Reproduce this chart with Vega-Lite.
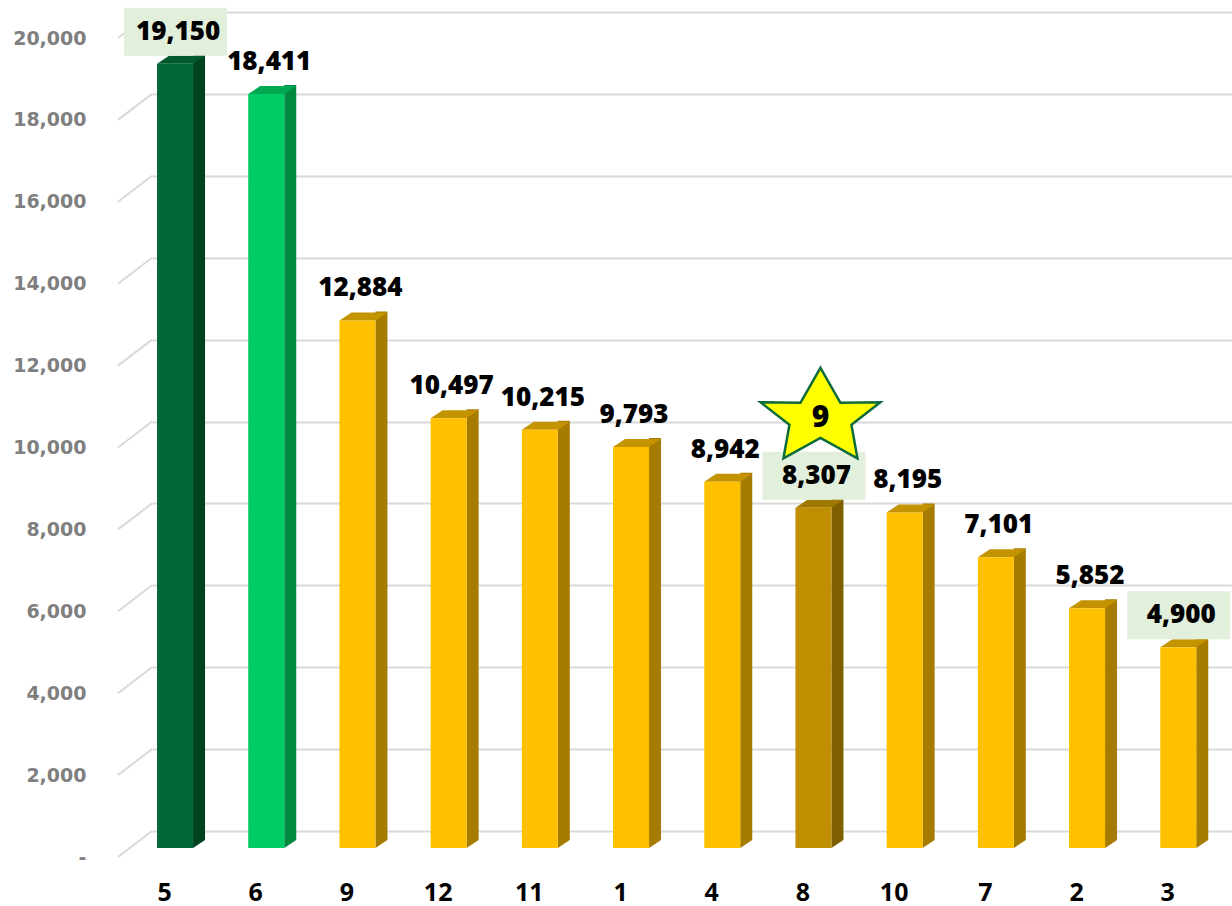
{
  "$schema": "https://vega.github.io/schema/vega-lite/v6.json",
  "width": 1080,
  "height": 819,
  "autosize": {"type": "none"},
  "padding": {"left": 152, "top": 12, "right": 0, "bottom": 75},
  "background": "#ffffff",
  "config": {"view": {"stroke": null}, "font": "Noto Sans"},
  "datasets": {
    "bars": [
      {"cat": "5", "value": 19150, "group": "first"},
      {"cat": "6", "value": 18411, "group": "second"},
      {"cat": "9", "value": 12884, "group": "other"},
      {"cat": "12", "value": 10497, "group": "other"},
      {"cat": "11", "value": 10215, "group": "other"},
      {"cat": "1", "value": 9793, "group": "other"},
      {"cat": "4", "value": 8942, "group": "other"},
      {"cat": "8", "value": 8307, "group": "focus"},
      {"cat": "10", "value": 8195, "group": "other"},
      {"cat": "7", "value": 7101, "group": "other"},
      {"cat": "2", "value": 5852, "group": "other"},
      {"cat": "3", "value": 4900, "group": "other"}
    ],
    "ticks": [
      {"v": 0}, {"v": 2000}, {"v": 4000}, {"v": 6000}, {"v": 8000}, {"v": 10000},
      {"v": 12000}, {"v": 14000}, {"v": 16000}, {"v": 18000}, {"v": 20000}
    ]
  },
  "data": {"name": "bars"},
  "encoding": {
    "x": {
      "field": "cat", "type": "nominal", "sort": null,
      "scale": {"type": "point", "padding": 0.421, "align": 0.3, "round": false},
      "axis": {
        "title": null, "domain": false, "ticks": false, "tickSize": 0, "grid": false,
        "labelAngle": 0, "labelFont": "Noto Sans", "labelFontWeight": "bold", "labelFontSize": 25,
        "labelColor": "#000000", "labelPadding": 61, "labelBaseline": "middle", "labelOffset": -11
      }
    }
  },
  "layer": [
    {
      "data": {"name": "ticks"},
      "mark": {"type": "rule", "color": "#D9D9D9", "strokeWidth": 2, "yOffset": 26},
      "encoding": {
        "x": {"value": -34},
        "x2": {"value": 0},
        "y": {
          "field": "v", "type": "quantitative",
          "scale": {"domain": [0, 20000], "nice": false, "zero": true},
          "axis": {
            "title": null, "domain": false, "ticks": false, "tickSize": 0,
            "values": [0, 2000, 4000, 6000, 8000, 10000, 12000, 14000, 16000, 18000, 20000],
            "grid": true, "gridColor": "#D9D9D9", "gridWidth": 2,
            "labelExpr": "datum.value == 0 ? '-' : format(datum.value, ',')",
            "labelFont": "DejaVu Sans", "labelFontWeight": "bold", "labelFontSize": 19,
            "labelColor": "#7F7F7F", "labelPadding": 66, "labelOffset": 26, "labelAlign": "right"
          }
        },
        "y2": {"field": "v"}
      }
    },
    {
      "mark": {"type": "bar", "width": 12, "xOffset": 24, "yOffset": 8, "y2Offset": 8},
      "encoding": {
        "y": {"field": "value", "type": "quantitative"},
        "y2": {"datum": 0},
        "color": {
          "field": "group", "type": "nominal", "legend": null,
          "scale": {"domain": ["first", "second", "focus", "other"], "range": ["#00421F", "#008A40", "#7F5F00", "#A67C00"]}
        }
      }
    },
    {
      "mark": {"type": "point", "filled": true, "opacity": 1, "size": 4, "strokeWidth": 0, "yOffset": 17,
        "shape": "M 18,0 L 18,-9.5 L 30,-9.5 L 30,-8 Z"},
      "encoding": {
        "y": {"datum": 0},
        "color": {
          "field": "group", "type": "nominal", "legend": null,
          "scale": {"domain": ["first", "second", "focus", "other"], "range": ["#00421F", "#008A40", "#7F5F00", "#A67C00"]}
        }
      }
    },
    {
      "mark": {"type": "point", "filled": true, "opacity": 1, "size": 4, "strokeWidth": 0, "yOffset": 17,
        "shape": "M -18,0 L 18,0 L 30,-8 L -6,-8 Z"},
      "encoding": {
        "y": {"field": "value", "type": "quantitative"},
        "color": {
          "field": "group", "type": "nominal", "legend": null,
          "scale": {"domain": ["first", "second", "focus", "other"], "range": ["#005A2D", "#00A852", "#A07800", "#C49300"]}
        }
      }
    },
    {
      "mark": {"type": "bar", "width": 36, "yOffset": 17, "y2Offset": 17},
      "encoding": {
        "y": {"field": "value", "type": "quantitative"},
        "y2": {"datum": 0},
        "color": {
          "field": "group", "type": "nominal", "legend": null,
          "scale": {"domain": ["first", "second", "focus", "other"], "range": ["#006837", "#00CC66", "#BF8F00", "#FFC000"]}
        }
      }
    },
    {
      "transform": [{"filter": "indexof(['5', '8', '3'], datum.cat) >= 0"}],
      "mark": {"type": "point", "filled": true, "opacity": 1, "size": 4, "strokeWidth": 0, "yOffset": 17,
        "shape": "M -51,-56 L 52,-56 L 52,-8 L -51,-8 Z", "color": "#E2EFDA"},
      "encoding": {
        "y": {"field": "value", "type": "quantitative"}
      }
    },
    {
      "mark": {"type": "text", "font": "Noto Sans", "fontWeight": 900, "fontSize": 26, "color": "#000000",
        "baseline": "middle", "align": "center", "dx": 3, "dy": -15},
      "encoding": {
        "y": {"field": "value", "type": "quantitative"},
        "text": {"field": "value", "type": "quantitative", "format": ","}
      }
    },
    {
      "transform": [{"filter": "datum.cat == '8'"}],
      "mark": {"type": "point", "filled": false, "opacity": 1, "size": 4, "yOffset": 17,
        "fill": "#FFFF00", "fillOpacity": 1, "stroke": "#0E6B3A", "strokeWidth": 2.5, "strokeOpacity": 1,
        "shape": "M 7,-140 L 27,-105 L 66.9,-105.5 L 38,-83 L 44,-49.5 L 7,-70 L -30,-49.5 L -24,-83 L -52.9,-105.5 L -13,-105 Z"},
      "encoding": {
        "y": {"field": "value", "type": "quantitative"}
      }
    },
    {
      "transform": [{"filter": "datum.cat == '8'"}],
      "mark": {"type": "text", "font": "Noto Sans", "fontWeight": 900, "fontSize": 30, "color": "#000000",
        "baseline": "middle", "align": "center", "dx": 7, "dy": -73},
      "encoding": {
        "y": {"field": "value", "type": "quantitative"},
        "text": {"value": "9"}
      }
    }
  ],
  "resolve": {"scale": {"color": "independent"}}
}
